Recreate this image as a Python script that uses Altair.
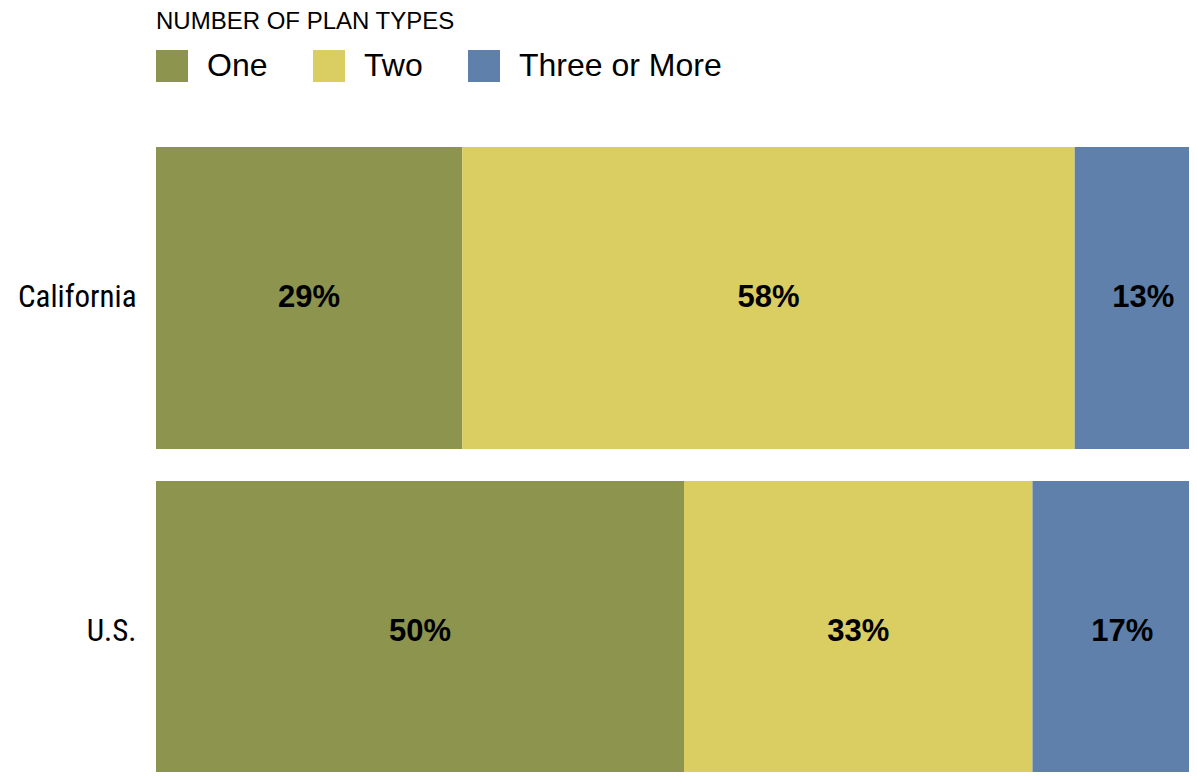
import altair as alt
import pandas as pd

regions = ["California", "U.S."]
plan_types = ["One", "Two", "Three or More"]
california = [29, 58, 13]
us = [50, 33, 17]
colors = ["#8c944e", "#dacd62", "#5e80ab"]

rows = []
for region, vals in zip(regions, [california, us]):
    for i, (p, v) in enumerate(zip(plan_types, vals)):
        rows.append({"region": region, "plan": p, "order": i, "value": v})
df = pd.DataFrame(rows)

base = (
    alt.Chart(df)
    .transform_stack(stack="value", groupby=["region"], as_=["x0", "x1"],
                     sort=[alt.SortField("order", order="ascending")])
    .transform_calculate(mid="(datum.x0 + datum.x1) / 2", label="datum.value + '%'")
)

# the full bars extend a little past the visible view (cropped at right / bottom)
xscale = alt.Scale(domain=[0, 100], nice=False, zero=True, range=[0, 1056])
yscale = alt.Scale(domain=regions, paddingInner=0.096, paddingOuter=0, range=[0, 636])
yenc = alt.Y(
    "region:N", sort=regions, scale=yscale,
    axis=alt.Axis(title=None, domain=False, ticks=False, labelFontSize=31,
                  labelFont="Liberation Sans Narrow, Roboto Condensed, Roboto, sans-serif",
                  labelColor="black", labelPadding=20, labelLimit=0),
)

bars = base.mark_bar(clip=True).encode(
    x=alt.X("x0:Q", scale=xscale, axis=None),
    x2="x1:Q",
    y=yenc,
    color=alt.Color(
        "plan:N", sort=plan_types,
        scale=alt.Scale(domain=plan_types, range=colors),
        legend=alt.Legend(
            title="NUMBER OF PLAN TYPES", orient="none", legendX=0, legendY=-137,
            direction="horizontal", titleFontSize=24, titleFontWeight="normal",
            titleFont="Liberation Sans", titleColor="black", titlePadding=16,
            titleLimit=0, labelLimit=0,
            symbolType="square", symbolSize=1024, symbolStrokeWidth=0,
            symbolOpacity=1, labelFontSize=32, labelFont="Liberation Sans",
            labelColor="black", labelOffset=19, columnPadding=45,
        ),
    ),
)

text = base.mark_text(fontWeight="bold", fontSize=31, font="Liberation Sans",
                      color="black").encode(
    x=alt.X("mid:Q", scale=xscale, axis=None),
    y=alt.Y("region:N", sort=regions, scale=yscale),
    text="label:N",
)

chart = (
    alt.layer(bars, text)
    .properties(width=1033, height=625,
                autosize=alt.AutoSizeParams(type="none"),
                padding={"left": 148, "top": 139, "right": 0, "bottom": 0})
    .configure_view(stroke=None)
)

chart.save("out.html", embed_options={"renderer": "svg", "actions": False})
